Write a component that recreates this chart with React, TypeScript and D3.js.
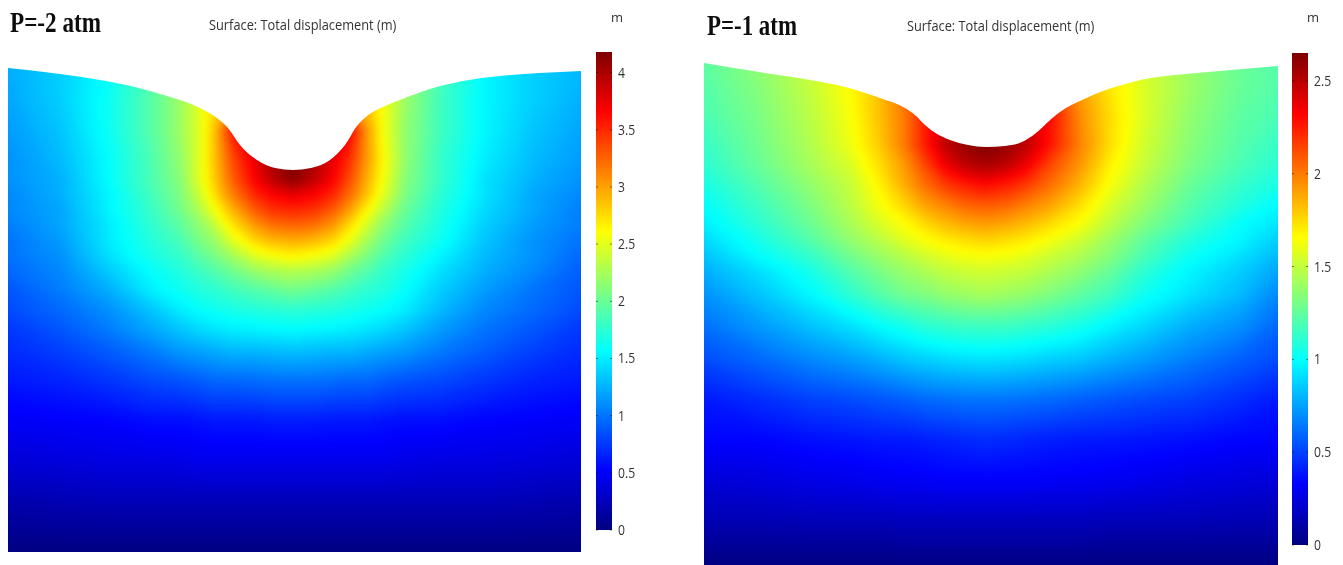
import React from "react";
import * as d3 from "d3";

// Colour-range position (percent of the colour bar) at grid points.
const leftCols = [8, 60, 110, 150, 180, 200, 215, 232, 255, 273, 293, 313, 333, 350, 368, 383, 405, 440, 485, 535, 581];
const leftRows = [60, 100, 130, 160, 180, 195, 210, 225, 240, 255, 270, 290, 310, 330, 350, 380, 420, 460, 500, 552];
const leftValues = [
  [30, 33, 38, 45, 52, 60, 66, 72, 80, 85, 88, 85, 80, 74, 68, 62, 53, 45, 37, 33, 31],
  [29, 33, 39, 46, 53, 60, 66, 72, 80, 86, 90, 86, 80, 74, 68, 62, 53, 44, 37, 33, 30],
  [28, 32, 39, 46, 53, 60, 69, 85, 95, 98, 100, 98, 95, 88, 72, 62, 52, 44, 37, 32, 29],
  [27, 31, 38, 45, 52, 60, 69, 80, 90, 97, 100, 97, 90, 83, 72, 63, 52, 43, 36, 31, 28],
  [27, 30, 38, 45, 51, 60, 68, 78, 88, 94, 99, 94, 88, 80, 70, 62, 51, 43, 35, 30, 27],
  [26, 30, 37, 44, 50, 58, 66, 75, 84, 88, 90, 88, 84, 77, 68, 60, 50, 42, 35, 29, 26],
  [26, 29, 37, 43, 49, 55, 62, 70, 79, 83, 84, 83, 79, 72, 63, 56, 48, 41, 34, 29, 25],
  [25, 29, 36, 42, 47, 52, 57, 65, 73, 77, 78, 77, 73, 66, 58, 52, 46, 40, 33, 28, 25],
  [24, 28, 36, 41, 45, 50, 53, 60, 67, 70, 71, 70, 67, 61, 54, 49, 44, 39, 32, 27, 24],
  [24, 27, 35, 40, 43, 47, 50, 54, 60, 62.5, 64, 62.5, 60, 55, 50, 46, 42, 37, 31, 27, 23],
  [23, 26, 33, 38, 41, 44, 46, 49, 53, 55, 56, 55, 53, 49, 46, 43, 40, 35, 30, 26, 22],
  [21, 25, 30, 36, 39, 41, 42, 44, 46, 47.5, 49, 47.5, 46, 44, 42, 41, 38, 33, 28, 24, 21],
  [20, 23, 27, 32, 36, 38, 39, 40, 41, 41.5, 42, 41.5, 41, 40, 39, 38, 36, 31, 26, 23, 20],
  [18, 21, 25, 29, 32, 34, 35, 36, 36.5, 37, 37.5, 37, 36.5, 36, 35, 34, 32, 28, 24, 21, 18],
  [17, 19, 22, 25, 28, 29, 30, 31, 31, 31.5, 32, 31.5, 31, 31, 30, 29, 28, 25, 22, 19, 17],
  [15, 16, 18, 20, 21, 22, 23, 23, 23.5, 24, 24, 24, 23.5, 23, 23, 22, 21, 20, 18, 16, 15],
  [12, 12.5, 13, 14, 14, 14.5, 15, 15, 15, 15.5, 15.5, 15.5, 15, 15, 15, 14.5, 14, 14, 13, 12.5, 12],
  [9, 9.5, 10, 10, 10.5, 11, 11, 11, 11, 11, 11, 11, 11, 11, 11, 11, 10.5, 10, 10, 9.5, 9],
  [5, 5.5, 6, 6, 6, 6, 6, 6, 6, 6, 6, 6, 6, 6, 6, 6, 6, 6, 6, 5.5, 5],
  [0.5, 0.5, 0.5, 0.5, 0.5, 0.5, 0.5, 0.5, 0.5, 0.5, 0.5, 0.5, 0.5, 0.5, 0.5, 0.5, 0.5, 0.5, 0.5, 0.5, 0.5],
];
const leftSurfaceX = [8, 60, 100, 135, 167, 200, 217, 228, 240, 257, 275, 293, 311, 330, 345, 357, 367, 385, 400, 430, 463, 500, 540, 581];
const leftSurfaceY = [68, 74, 80, 87, 96, 108, 118, 128, 145, 160, 168, 170, 168, 160, 145, 126, 116, 106, 100, 89, 81, 76, 73, 71];
const leftTicks = [0, 0.5, 1, 1.5, 2, 2.5, 3, 3.5, 4];

const rightCols = [704, 760, 810, 850, 880, 905, 925, 945, 965, 986, 1007, 1027, 1050, 1080, 1110, 1145, 1190, 1240, 1278];
const rightRows = [55, 85, 115, 145, 165, 185, 205, 225, 240, 255, 270, 295, 325, 360, 400, 440, 480, 520, 565];
const rightValues = [
  [47, 52, 57, 63, 70, 78, 84, 90, 95, 100, 95, 90, 84, 75, 65, 58, 52, 48, 46],
  [46, 51, 57, 63, 69, 78, 84, 90, 95, 100, 95, 90, 84, 72, 65, 59, 53, 48, 46],
  [45, 50, 56, 62, 69, 76, 85, 92, 97, 100, 97, 92, 87, 74, 66, 59, 52, 47, 45],
  [43, 49, 55, 61, 68, 76, 85, 94, 98, 100, 98, 94, 86, 75, 66, 58, 51, 46, 43],
  [42, 48, 54, 59, 66, 73, 81, 89, 94, 96, 94, 89, 81, 73, 64, 57, 50, 45, 42],
  [40, 46, 52, 57, 64, 71, 77, 82, 85, 87, 85, 82, 77, 70, 62, 55, 48, 43, 40],
  [38, 44, 50, 56, 62, 67, 72, 75, 78, 79, 78, 75, 72, 66, 59, 53, 46, 41, 37.5],
  [36, 42, 48, 54, 59, 62.5, 66, 69, 71, 72, 71, 69, 66, 62, 56, 50, 44, 38, 35],
  [34, 40, 46, 52, 56, 60, 62.5, 64.5, 66, 67, 66, 64.5, 62, 58, 53, 47, 41, 37, 33],
  [32, 38, 43, 49, 53, 56, 58.5, 60.5, 62, 62.5, 62, 60.5, 58, 55, 51, 45, 39, 35, 31],
  [30, 35, 40, 46, 50, 53, 55, 57, 58, 58.5, 58, 57, 55, 52, 48, 42, 37, 33, 29],
  [27, 32, 37, 42, 46, 49, 50, 52, 53, 54, 53, 52, 50, 47, 44, 39, 35, 31, 26],
  [24, 28, 32, 35, 38, 40, 42, 43, 44, 44, 44, 43, 42, 40, 37, 34, 30, 27, 23],
  [20, 23, 26, 28, 30, 32, 33, 34, 34.5, 35, 34.5, 34, 33, 32, 30, 28, 25, 22, 20],
  [15, 17, 19, 20, 21, 22, 23, 23.5, 24, 24, 24, 23.5, 23, 22, 21, 20, 19, 17, 15],
  [13, 13, 14, 14.5, 15, 15, 15.5, 16, 16.5, 17, 16.5, 16, 15.5, 15, 15, 14.5, 14, 13, 13],
  [9, 9.5, 10.5, 11, 11.5, 12, 12, 12.5, 12.5, 12.5, 12.5, 12.5, 12, 12, 11.5, 11, 10, 9.5, 9],
  [5.5, 5.5, 6, 6, 6, 6.5, 6.5, 6.5, 6.5, 6.5, 6.5, 6.5, 6.5, 6.5, 6, 6, 6, 5.5, 5.5],
  [0.5, 0.5, 0.5, 0.5, 0.5, 0.5, 0.5, 0.5, 0.5, 0.5, 0.5, 0.5, 0.5, 0.5, 0.5, 0.5, 0.5, 0.5, 0.5],
];
const rightSurfaceX = [704, 765, 810, 849, 880, 905, 915, 925, 937, 950, 968, 986, 1005, 1022, 1036, 1048, 1060, 1082, 1103, 1122, 1145, 1175, 1208, 1278];
const rightSurfaceY = [63, 73, 80, 88, 98, 108, 115, 125, 134, 140, 145, 147, 146, 142, 133, 122, 112, 100, 91, 85, 79, 75, 72, 66];
const rightTicks = [0, 0.5, 1, 1.5, 2, 2.5];

const colorStops = [0, 12.5, 37.5, 62.5, 87.5, 100];
const colorValues = ["#00007f", "#0000ff", "#00ffff", "#ffff00", "#ff0000", "#7f0000"];
const levels = d3.range(0.5, 100.01, 0.5);
const jet = d3.scaleLinear<string>().domain(colorStops).range(colorValues);

type PanelProps = {
  id: string;
  heading: string;
  headingX: number;
  headingY: number;
  headingW: number;
  titleX: number;
  titleY: number;
  cols: number[];
  rows: number[];
  values: number[][];
  surfaceX: number[];
  surfaceY: number[];
  barX: number;
  barTop: number;
  barBottom: number;
  barMax: number;
  ticks: number[];
  unitX: number;
};

const PAD = 30;

function Panel(p: PanelProps) {
  const nx = p.cols.length;
  const ny = p.rows.length;
  const left = p.cols[0];
  const right = p.cols[nx - 1];
  const top = p.rows[0];
  const bottom = p.rows[ny - 1];
  const x = d3
    .scaleLinear()
    .domain([0, ...p.cols.map((_, i) => i + 0.5), nx])
    .range([left - PAD, ...p.cols, right + PAD]);
  const y = d3
    .scaleLinear()
    .domain([0, ...p.rows.map((_, i) => i + 0.5), ny])
    .range([top - PAD, ...p.rows, bottom + PAD]);
  const contours = d3.contours().size([nx, ny]).smooth(true).thresholds(levels)(p.values.flat());
  const path = d3.geoPath(
    d3.geoTransform({
      point(this: any, a: number, b: number) {
        this.stream.point(x(a), y(b));
      },
    })
  );
  const surface = d3
    .line<number>()
    .x((v) => v)
    .y((_, i) => p.surfaceY[i])
    .curve(d3.curveMonotoneX)(p.surfaceX) as string;
  const clip = `${surface}L${right},${bottom}L${left},${bottom}Z`;
  const barScale = d3.scaleLinear().domain([0, p.barMax]).range([p.barBottom, p.barTop]);
  const barW = 16;
  const textStyle = { fontFamily: "'Open Sans'", fill: "#333", filter: "url(#soft)" };
  return (
    <g>
      <defs>
        <clipPath id={`clip-${p.id}`}>
          <path d={clip} />
        </clipPath>
        <linearGradient id={`grad-${p.id}`} x1="0" y1="1" x2="0" y2="0">
          {colorStops.map((s, i) => (
            <stop key={s} offset={`${s}%`} stopColor={colorValues[i]} />
          ))}
        </linearGradient>
      </defs>
      <g clipPath={`url(#clip-${p.id})`}>
        <g filter="url(#field)">
          <rect x={left - PAD} y={top - PAD} width={right - left + 2 * PAD} height={bottom - top + 2 * PAD} fill={jet(0)} />
          {contours.map((c) => (
            <path key={c.value} d={path(c as any) || ""} fill={jet(c.value)} />
          ))}
        </g>
      </g>
      <text
        x={p.headingX}
        y={p.headingY}
        fontFamily="'Liberation Serif'"
        fontWeight="bold"
        fontSize={29}
        textLength={p.headingW}
        lengthAdjust="spacingAndGlyphs"
        fill="#111"
        filter="url(#soft)"
      >
        {p.heading}
      </text>
      <text transform={`translate(${p.titleX},${p.titleY}) scale(0.915,1)`} fontSize={14} style={textStyle}>
        Surface: Total displacement (m)
      </text>
      <text x={p.unitX} y={22} fontSize={13} style={textStyle}>
        m
      </text>
      <rect x={p.barX} y={p.barTop} width={barW} height={p.barBottom - p.barTop} fill={`url(#grad-${p.id})`} />
      {p.ticks.map((t) => (
        <g key={t}>
          <line x1={p.barX} x2={p.barX + 2} y1={barScale(t)} y2={barScale(t)} stroke="#000" strokeOpacity={0.5} />
          <line x1={p.barX + barW - 2} x2={p.barX + barW} y1={barScale(t)} y2={barScale(t)} stroke="#000" strokeOpacity={0.5} />
          <text
            transform={`translate(${p.barX + barW + 6},${barScale(t) + 5}) scale(0.87,1)`}
            fontSize={14}
            style={textStyle}
          >
            {t}
          </text>
        </g>
      ))}
    </g>
  );
}

export default function App() {
  return (
    <svg
      width={1343}
      height={565}
      viewBox="0 0 1343 565"
      style={{ position: "absolute", left: 0, top: 0, background: "#fff" }}
    >
      <defs>
        <filter id="field" filterUnits="userSpaceOnUse" x="-40" y="0" width="1423" height="640" colorInterpolationFilters="sRGB">
          <feGaussianBlur stdDeviation="3" />
        </filter>
        <filter id="soft" x="-10%" y="-20%" width="120%" height="140%">
          <feGaussianBlur stdDeviation="0.35" />
        </filter>
      </defs>
      <Panel
        id="a"
        heading="P=-2 atm"
        headingX={10}
        headingY={32}
        headingW={91}
        titleX={209}
        titleY={30}
        cols={leftCols}
        rows={leftRows}
        values={leftValues}
        surfaceX={leftSurfaceX}
        surfaceY={leftSurfaceY}
        barX={596}
        barTop={52}
        barBottom={530}
        barMax={4.18}
        ticks={leftTicks}
        unitX={611}
      />
      <Panel
        id="b"
        heading="P=-1 atm"
        headingX={707}
        headingY={35}
        headingW={90}
        titleX={907}
        titleY={31}
        cols={rightCols}
        rows={rightRows}
        values={rightValues}
        surfaceX={rightSurfaceX}
        surfaceY={rightSurfaceY}
        barX={1292}
        barTop={53}
        barBottom={545}
        barMax={2.65}
        ticks={rightTicks}
        unitX={1307}
      />
    </svg>
  );
}
